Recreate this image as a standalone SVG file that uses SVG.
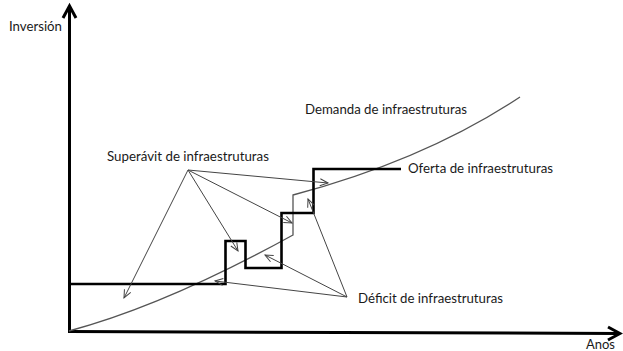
<svg xmlns="http://www.w3.org/2000/svg" width="623" height="351" viewBox="0 0 623 351">
  <style>
    .lbl { font-family: Lato, "Open Sans", "Liberation Sans", sans-serif; font-size: 14px; fill: #1a1a1a; }
    .axis { fill: none; stroke: #000; stroke-width: 3; }
    .step { fill: none; stroke: #000; stroke-width: 2.6; stroke-linejoin: miter; }
    .curve { fill: none; stroke: #555; stroke-width: 1.3; }
    .conn { fill: none; stroke: #444; stroke-width: 1; }
  </style>
  <defs>
    <marker id="axhead" markerUnits="userSpaceOnUse" markerWidth="30" markerHeight="30" refX="0" refY="0" viewBox="-15 -15 30 30" orient="auto" overflow="visible">
      <path d="M-12,-6.5 L0,0 L-12,6.5" fill="none" stroke="#000" stroke-width="3" stroke-linejoin="miter"/>
    </marker>
    <marker id="thin" markerUnits="userSpaceOnUse" markerWidth="20" markerHeight="20" refX="0" refY="0" viewBox="-10 -10 20 20" orient="auto" overflow="visible">
      <path d="M-8,-3.5 L0,0 L-8,3.5" fill="none" stroke="#444" stroke-width="1"/>
    </marker>
  </defs>
  <rect width="623" height="351" fill="#fff"/>

  <g id="axes">
    <line class="axis" x1="69.5" y1="333" x2="69.5" y2="6" marker-end="url(#axhead)"/>
    <line class="axis" x1="68" y1="331.5" x2="620" y2="333.5" marker-end="url(#axhead)"/>
  </g>

  <g id="demanda">
    <path class="curve" d="M69,331 Q166,305 293,235 L293,195 Q425,160 520,97"/>
  </g>

  <g id="oferta">
    <polyline class="step" points="69,284 225.5,284 225.5,241 245.5,241 245.5,268 281.5,268 281.5,213 313.5,213 313.5,169 401,169"/>
  </g>

  <g id="connectors">
    <line class="conn" x1="188" y1="170" x2="124" y2="298" marker-end="url(#thin)"/>
    <line class="conn" x1="188" y1="170" x2="238" y2="251" marker-end="url(#thin)"/>
    <line class="conn" x1="188" y1="170" x2="292" y2="223" marker-end="url(#thin)"/>
    <line class="conn" x1="188" y1="170" x2="328" y2="183" marker-end="url(#thin)"/>
    <line class="conn" x1="347" y1="297" x2="215" y2="281" marker-end="url(#thin)"/>
    <line class="conn" x1="347" y1="297" x2="265" y2="255" marker-end="url(#thin)"/>
    <line class="conn" x1="347" y1="297" x2="308" y2="199" marker-end="url(#thin)"/>
  </g>

  <g id="labels">
    <text id="lbl-inversion" class="lbl" x="9" y="31" textLength="53" lengthAdjust="spacingAndGlyphs">Inversión</text>
    <text id="lbl-demanda" class="lbl" x="305" y="114" textLength="162" lengthAdjust="spacingAndGlyphs">Demanda de infraestruturas</text>
    <text id="lbl-superavit" class="lbl" x="107" y="161" textLength="162" lengthAdjust="spacingAndGlyphs">Superávit de infraestruturas</text>
    <text id="lbl-oferta" class="lbl" x="408" y="173" textLength="145" lengthAdjust="spacingAndGlyphs">Oferta de infraestruturas</text>
    <text id="lbl-deficit" class="lbl" x="358" y="303" textLength="145" lengthAdjust="spacingAndGlyphs">Déficit de infraestruturas</text>
    <text id="lbl-anos" class="lbl" x="586" y="349" textLength="29" lengthAdjust="spacingAndGlyphs">Anos</text>
  </g>
</svg>
